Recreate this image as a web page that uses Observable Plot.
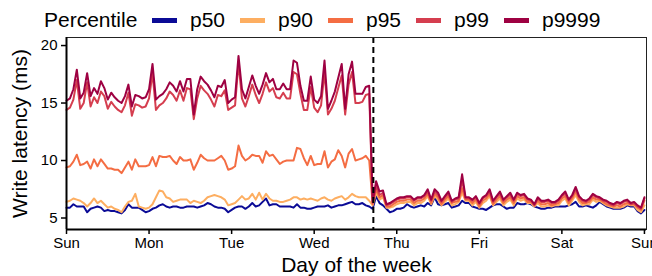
<!DOCTYPE html>
<html>
<head>
<meta charset="utf-8">
<script src="https://cdn.jsdelivr.net/npm/d3@7"></script>
<script src="https://cdn.jsdelivr.net/npm/@observablehq/plot@0.6"></script>
<style>
  html, body { margin: 0; padding: 0; background: #fff; }
  body { width: 652px; height: 276px; overflow: hidden; font-family: "Liberation Sans", Arial, sans-serif; }
  #legend { position: relative; height: 32px; width: 652px; font-size: 21px; color: #000; }
  #legend span { position: absolute; white-space: nowrap; line-height: 24px; }
  #legend i { position: absolute; height: 5px; width: 25px; }
</style>
</head>
<body>
<div id="legend"></div>
<div id="chart"></div>
<script>
// ---- data (hourly, Sunday 00:00 = hour 0) ----
const percentiles = ["p50", "p90", "p95", "p99", "p9999"];
const dayLabels = ["Sun", "Mon", "Tue", "Wed", "Thu", "Fri", "Sat", "Sun"];
const dayTicks = [0, 24, 48, 72, 96, 120, 144, 168];
const changeHour = [89.2];

const p50 = [
  5.9,5.9,6.2,6.0,6.0,6.0,5.5,5.8,5.9,6.0, 5.9,5.6,5.7,5.6,5.6,5.5,5.4,5.7,6.2,5.9,
  5.9,5.9,5.7,5.5,5.6,5.8,5.9,6.1,6.2,6.0, 5.9,6.0,6.0,5.9,5.9,6.0,6.0,6.0,5.9,6.0,
  6.1,6.3,6.2,6.0,5.9,5.9,5.8,5.5,5.7,5.9, 6.0,6.0,5.8,6.0,6.3,6.0,6.1,6.4,6.7,6.1,
  6.2,6.2,6.0,6.0,6.0,6.0,5.9,6.2,5.9,5.9, 5.8,5.8,5.9,6.0,6.0,6.0,6.1,5.9,6.0,6.1,
  6.1,6.2,6.3,6.4,6.2,6.2,6.3,6.1,6.0,
  5.8,6.9,6.3,6.1,5.8,5.5,5.6,5.8,5.8,5.9, 6.2,6.0,5.9,6.0,6.1,6.0,6.3,6.1,6.8,6.2,
  6.1,6.2,6.3,5.9,6.0,6.1,6.5,6.3,6.3,6.0, 5.9,5.8,5.8,5.7,5.9,6.1,6.2,6.2,6.0,5.8,
  5.9,5.9,6.3,6.2,6.2,6.3,6.2,6.0,5.9,5.8, 5.8,5.9,5.9,6.0,6.0,6.0,6.0,6.1,6.2,6.4,
  6.0,6.0,6.1,6.0,5.9,6.1,6.4,6.2,6.0,5.9, 5.8,5.8,5.8,5.9,6.1,6.0,6.0,5.6,5.4,5.7
];
const p90 = [
  6.4,6.5,6.7,6.6,6.5,6.3,6.0,6.3,6.7,6.3, 6.5,6.2,5.9,6.0,5.8,5.7,5.5,6.0,6.4,6.5,
  7.1,6.0,5.9,5.8,5.9,6.2,6.8,7.4,7.3,6.8, 6.7,6.4,6.5,6.6,6.6,6.6,6.3,6.5,6.4,6.3,
  6.5,6.8,6.9,7.0,6.9,6.8,6.6,6.1,6.2,6.3, 6.6,6.9,6.6,6.7,7.1,6.6,7.2,6.6,7.1,6.7,
  6.5,6.5,6.4,6.4,6.5,6.6,6.8,6.8,6.6,6.7, 6.6,6.7,6.6,6.5,6.7,6.8,6.6,6.5,6.7,6.8,
  6.9,6.6,6.8,7.1,6.9,6.8,6.8,6.8,6.5,
  6.1,7.2,6.6,6.8,5.9,5.9,6.0,6.2,6.3,6.3, 6.4,6.4,6.1,6.3,6.3,6.5,6.9,6.2,6.9,6.6,
  6.1,6.4,6.7,6.1,6.2,6.4,7.2,6.5,6.5,6.1, 6.4,5.9,6.3,6.5,6.9,6.1,6.4,6.7,6.1,6.4,
  6.6,6.1,6.7,6.5,6.6,6.3,6.3,6.0,6.3,6.0, 6.0,6.1,6.0,6.1,6.1,6.5,6.7,6.1,6.5,7.0,
  6.4,6.1,6.2,6.2,6.6,6.4,6.5,6.3,6.1,6.0, 5.9,5.9,5.9,6.0,6.2,6.1,6.1,5.7,5.5,6.1
];
const p95 = [
  9.4,9.5,9.9,10.5,9.6,9.7,9.9,9.3,10.1,9.5, 10.1,9.7,9.3,9.3,9.2,9.2,8.9,9.4,9.9,9.2,
  10.1,9.5,9.5,9.5,9.6,10.3,9.5,10.4,10.3,10.3, 10.4,10.0,9.7,10.3,10.0,10.0,10.1,9.2,9.8,10.5,
  10.2,10.0,10.0,10.0,10.2,10.4,10.0,9.2,9.3,9.5, 11.3,10.4,10.0,10.2,10.5,10.4,10.4,9.8,10.8,10.4,
  10.5,10.1,9.7,9.9,10.0,10.0,10.0,11.1,11.0,10.2, 9.6,10.4,9.6,9.7,9.7,10.8,9.4,9.9,10.1,10.9,
  10.4,9.4,10.6,11.0,10.0,10.1,10.2,10.4,10.0,
  6.2,7.5,6.8,7.0,6.0,6.0,6.2,6.4,6.5,6.5, 6.6,6.6,6.3,6.5,6.5,6.7,7.1,6.3,7.1,6.8,
  6.2,6.6,6.9,6.3,6.4,6.5,7.6,6.6,6.6,6.3, 6.6,6.0,6.5,6.7,7.1,6.2,6.6,6.9,6.3,6.6,
  6.8,6.3,6.9,6.7,6.8,6.4,6.4,6.1,6.5,6.2, 6.2,6.3,6.1,6.2,6.3,6.7,6.9,6.3,6.7,7.3,
  6.6,6.3,6.3,6.4,6.8,6.6,6.6,6.4,6.2,6.1, 6.0,6.1,6.0,6.2,6.3,6.2,6.2,5.9,5.7,6.5
];
const p99 = [
  14.4,14.6,15.3,17.0,14.5,15.0,16.8,14.7,15.5,15.0, 16.0,15.6,14.5,15.1,14.7,14.4,14.2,14.8,15.9,13.9,
  14.9,14.8,14.6,14.7,15.4,17.6,14.4,14.8,15.0,15.4, 16.0,15.7,15.2,16.1,15.2,16.3,16.2,13.6,15.4,16.5,
  16.1,15.8,15.3,14.7,15.7,15.6,16.1,14.4,14.6,14.8, 18.5,15.4,14.7,15.6,16.6,15.7,15.0,15.8,16.8,16.0,
  16.3,15.5,15.4,15.9,15.4,15.4,17.7,17.5,15.8,14.4, 14.4,16.4,14.6,14.2,14.8,17.7,14.0,14.5,15.2,16.3,
  17.4,14.0,16.6,17.7,15.0,15.0,15.1,15.7,15.8,
  6.3,7.8,7.0,7.2,6.1,6.2,6.4,6.6,6.7,6.7, 6.8,6.8,6.5,6.7,6.7,6.9,7.3,6.5,7.3,7.0,
  6.4,6.8,7.1,6.4,6.6,6.7,8.3,6.7,6.7,6.5, 6.8,6.2,6.7,6.9,7.3,6.4,6.8,7.1,6.5,6.8,
  7.0,6.5,7.1,6.9,7.0,6.6,6.5,6.1,6.7,6.4, 6.4,6.5,6.3,6.3,6.5,6.9,7.1,6.5,6.9,7.5,
  6.8,6.5,6.4,6.6,7.0,6.8,6.7,6.5,6.4,6.2, 6.1,6.3,6.2,6.4,6.5,6.2,6.3,6.0,5.8,6.7
];
const p9999 = [
  15.2,15.4,16.2,17.9,15.4,15.9,17.6,15.6,16.3,15.8, 16.9,16.3,15.3,15.9,15.5,15.2,15.0,15.6,16.6,14.7,
  15.7,15.6,15.4,15.5,16.2,18.4,15.3,15.6,15.8,16.2, 16.8,16.5,16.0,16.9,16.0,17.1,17.1,14.0,16.2,17.3,
  16.9,16.6,16.1,15.5,16.5,16.4,17.0,15.0,15.3,15.5, 19.1,16.2,15.4,16.4,17.4,16.5,15.8,16.6,17.6,16.8,
  17.1,16.2,16.2,16.7,16.2,16.2,18.7,18.5,16.5,15.2, 15.2,17.3,15.3,15.0,15.6,18.7,14.5,15.2,16.0,17.2,
  18.4,14.5,17.5,18.6,15.8,15.8,15.8,16.4,16.5,
  6.4,8.2,7.3,7.4,6.2,6.3,6.5,6.7,6.8,6.8, 6.9,6.9,6.6,6.8,6.8,7.0,7.5,6.6,7.5,7.2,
  6.5,6.9,7.3,6.5,6.7,6.8,8.8,6.8,6.8,6.6, 6.9,6.3,6.8,7.0,7.5,6.5,6.9,7.3,6.6,6.9,
  7.2,6.6,7.2,7.0,7.1,6.7,6.6,6.2,6.8,6.5, 6.5,6.6,6.4,6.4,6.6,7.0,7.3,6.6,7.0,7.7,
  6.9,6.6,6.5,6.7,7.1,6.9,6.8,6.6,6.5,6.3, 6.2,6.4,6.3,6.5,6.6,6.3,6.4,6.1,5.9,6.8
];

const palette = ["#0b0b96", "#fdae61", "#f46d43", "#d53e4f", "#9e0142"];

// ---- build long table ----
const seriesValues = [p50, p90, p95, p99, p9999];
const rows = percentiles.flatMap((k, si) =>
  seriesValues[si].map((v, h) => ({hour: h, latency: v, percentile: k})));

// ---- legend (HTML, above the SVG) ----
const legend = document.getElementById("legend");
const title = document.createElement("span");
title.textContent = "Percentile";
title.style.left = "44px"; title.style.top = "8px";
legend.appendChild(title);
const swatchX = [152, 240, 328, 416, 504];
percentiles.forEach((k, i) => {
  const sw = document.createElement("i");
  sw.style.left = swatchX[i] + "px"; sw.style.top = "18px";
  sw.style.background = palette[i];
  legend.appendChild(sw);
  const t = document.createElement("span");
  t.textContent = k;
  t.style.left = (swatchX[i] + 38) + "px"; t.style.top = "8px";
  legend.appendChild(t);
});

// ---- chart ----
const chart = Plot.plot({
  width: 652,
  height: 244,
  marginTop: 5,
  marginLeft: 66,
  marginRight: 6,
  marginBottom: 47,
  style: {fontFamily: "'Liberation Sans', Arial, sans-serif", color: "#000", background: "#fff"},
  x: {domain: [0, 168.6]},
  y: {domain: [4.0, 20.7]},
  color: {domain: percentiles, range: palette},
  marks: [
    Plot.lineY(rows, {x: "hour", y: "latency", z: "percentile", stroke: "percentile", strokeWidth: 2, curve: "linear"}),
    Plot.ruleX(changeHour, {stroke: "#000", strokeWidth: 2, strokeDasharray: "6,4"}),
    Plot.frame({stroke: "#222", strokeWidth: 1}),
    Plot.axisX({ticks: dayTicks, tickFormat: (d) => dayLabels[dayTicks.indexOf(d)], tickSize: 5, tickPadding: 3, fontSize: 15, label: null, stroke: "#000", strokeWidth: 1.5}),
    Plot.axisY({ticks: [5, 10, 15, 20], tickSize: 5, tickPadding: 4, fontSize: 15, label: null, stroke: "#000", strokeWidth: 1.5}),
    Plot.ruleX([0], {stroke: "#000", strokeWidth: 2}),
    Plot.ruleY([4.0], {stroke: "#000", strokeWidth: 2}),
    Plot.text(["Day of the week"], {frameAnchor: "bottom", dy: 36, fontSize: 21, lineAnchor: "middle", textAnchor: "middle", fill: "#000"}),
    Plot.text(["Write latency (ms)"], {frameAnchor: "left", dx: -46, rotate: -90, fontSize: 21, lineAnchor: "middle", textAnchor: "middle", fill: "#000"})
  ]
});
document.getElementById("chart").appendChild(chart);
</script>
</body>
</html>
